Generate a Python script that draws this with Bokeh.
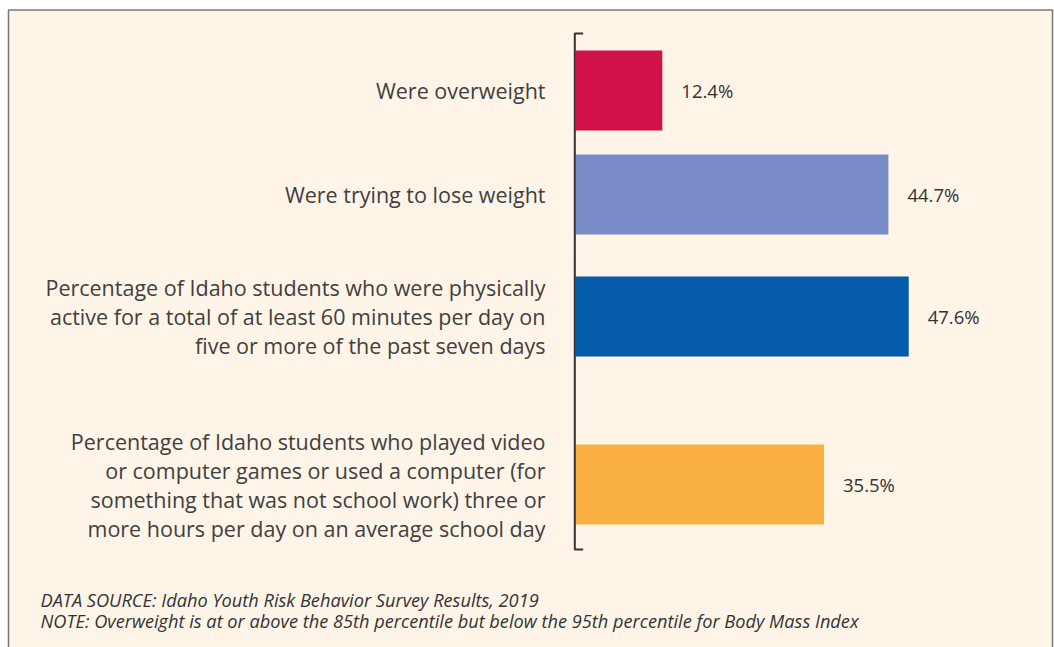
from bokeh.plotting import figure
from bokeh.models import Range1d, Label, ColumnDataSource
from bokeh.core.properties import value
from bokeh.embed import file_html
from bokeh.resources import INLINE

# ---- data ----
categories = [
    "Were overweight",
    "Were trying to lose weight",
    "Percentage of Idaho students who were physically\nactive for a total of at least 60 minutes per day on\nfive or more of the past seven days",
    "Percentage of Idaho students who played video\nor computer games or used a computer (for\nsomething that was not school work) three or\nmore hours per day on an average school day",
]
percent = [12.4, 44.7, 47.6, 35.5]
bar_colors = ["#D11148", "#7A8CC7", "#035BAA", "#F9B040"]
source_note = "DATA SOURCE: Idaho Youth Risk Behavior Survey Results, 2019"
note_text = "NOTE: Overweight is at or above the 85th percentile but below the 95th percentile for Body Mass Index"

# ---- layout ----
W, H = 1054, 647
row_center = [90, 194, 316, 484]   # vertical slot of each row, px from top
bar_px = 80
px_per_unit = 7.0
zero_px = 575
x_start = -zero_px / px_per_unit
x_end = (W - zero_px) / px_per_unit
bg = "#FEF5E8"
ink = "#333333"

src = ColumnDataSource(dict(
    y=row_center, v=percent, c=bar_colors, cat=categories,
    lab=[f"{v}%" for v in percent],
))

p = figure(width=W, height=H, x_range=Range1d(x_start, x_end), y_range=Range1d(H, 0),
           output_backend="svg", toolbar_location=None, min_border=0,
           x_axis_location=None, y_axis_location=None)
p.grid.visible = False
p.background_fill_color = "white"
p.border_fill_color = "white"
p.outline_line_color = None

# cream panel with grey frame
p.quad(left=(8 - zero_px) / px_per_unit, right=(1052 - zero_px) / px_per_unit,
       top=9.5, bottom=H + 20, fill_color=bg, line_color="#777777", line_width=1.5)

p.hbar(y="y", left=0, right="v", height=bar_px, fill_color="c", line_color=None, source=src)

# bracket axis line
p.line(x=[1.1, -0.1, -0.1, 1.1], y=[33, 33, 549, 549], line_color=ink, line_width=2)

p.text(x=0, y="y", text="cat", source=src, x_offset=-30, text_align="right",
       text_baseline="middle", text_font=value("Open Sans"), text_font_size="21.5px",
       text_color="#404040", text_line_height=1.0)
p.text(x="v", y="y", text="lab", source=src, x_offset=19, text_align="left",
       text_baseline="middle", text_font=value("Open Sans"), text_font_size="18.5px",
       text_color=ink)

for txt, yy in [(source_note, 48), (note_text, 27)]:
    p.add_layout(Label(x=40, y=yy, x_units="screen", y_units="screen", text=txt,
                       text_font="Open Sans", text_font_style="italic", text_font_size="18.2px",
                       text_color=ink, text_baseline="middle"))

open("out.html", "w").write(file_html(p, INLINE))
